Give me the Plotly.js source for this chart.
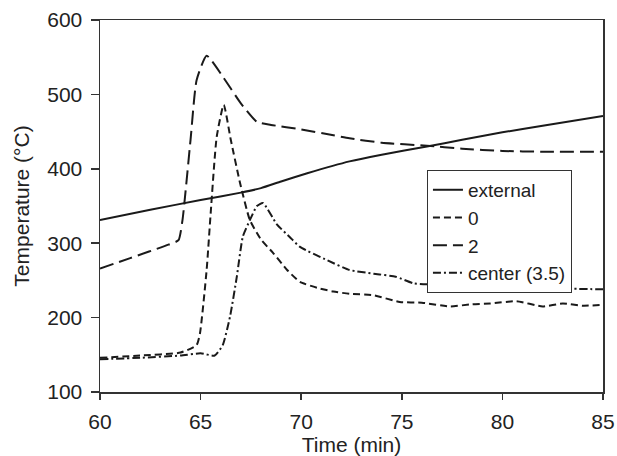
<!DOCTYPE html>
<html>
<head>
<meta charset="utf-8">
<script src="https://cdn.plot.ly/plotly-3.0.1.min.js"></script>
<style>html,body{margin:0;padding:0;background:#fff;}#chart{width:617px;height:456px;}</style>
</head>
<body>
<div id="chart"></div>
<script>
// Time (min) and temperature (°C) per series
const extTime = [60, 62.5, 65, 67, 68, 69, 70.3, 72.4, 74, 76.25, 78, 80, 82, 85];
const extTemp = [331, 345, 358, 368, 374, 383, 394, 410, 419, 430, 439, 449, 458, 471];

const s0Time = [60, 62, 64, 64.8, 64.97, 65.3, 65.5, 65.8, 66.15, 66.5, 66.96, 67.45, 68, 68.6, 69.3, 69.94, 70.8, 71.6, 72.4, 73.6, 74.9, 76, 77.4, 78.5, 79.4, 80.7, 82, 83, 84, 85];
const s0Temp = [146, 149, 153, 163, 179, 264, 340, 443, 486, 439, 381, 331, 305, 287, 264, 248, 240, 235, 232, 230, 221, 220, 215, 218, 219, 222, 215, 219, 216, 217];

const s2Time = [60, 61.5, 63.4, 63.9, 64.1, 64.5, 64.8, 65.3, 66.1, 67, 67.8, 68.5, 70, 71.4, 72.4, 74, 76.25, 78, 80, 82, 85];
const s2Temp = [266, 280, 298, 304, 331, 439, 519, 552, 524, 488, 463, 459, 453, 446, 441, 435, 431, 427, 424, 423, 423];

const cTime = [60, 62, 64, 65, 65.7, 66.1, 66.46, 66.8, 67.1, 67.45, 67.8, 68.1, 68.8, 69.44, 69.94, 71.3, 72.4, 73.6, 74.7, 75.6, 77, 78, 79.7, 81.4, 83, 85];
const cTemp = [144, 146, 149, 152, 149, 163, 201, 255, 309, 331, 350, 354, 325, 308, 295, 277, 264, 259, 255, 246, 244, 242, 244, 240, 239, 238];

const seriesNames = ["external", "0", "2", "center (3.5)"];
const xTicks = [60, 65, 70, 75, 80, 85];
const yTicks = [100, 200, 300, 400, 500, 600];

const lineColor = "#1a1a1a";
const font = "Liberation Sans, Arial, Helvetica, sans-serif";

const traces = [
  {x: extTime, y: extTemp, name: seriesNames[0], mode: "lines",
   line: {color: lineColor, width: 2, shape: "spline", smoothing: 0.5}},
  {x: s0Time, y: s0Temp, name: seriesNames[1], mode: "lines",
   line: {color: lineColor, width: 2, dash: "7px,4px", shape: "spline", smoothing: 0.5}},
  {x: s2Time, y: s2Temp, name: seriesNames[2], mode: "lines",
   line: {color: lineColor, width: 2, dash: "14px,6px", shape: "spline", smoothing: 0.5}},
  {x: cTime, y: cTemp, name: seriesNames[3], mode: "lines",
   line: {color: lineColor, width: 2, dash: "8px,3px,2px,3px", shape: "spline", smoothing: 0.5}}
];

const layout = {
  width: 617, height: 456,
  margin: {l: 100, r: 14, t: 20, b: 64},
  paper_bgcolor: "#fff", plot_bgcolor: "#fff",
  font: {family: font, size: 21, color: "#222"},
  showlegend: true,
  legend: {
    x: 0.65, y: 0.597, xanchor: "left", yanchor: "top",
    bgcolor: "#fff", bordercolor: "#333", borderwidth: 1,
    font: {family: font, size: 19, color: "#222"},
    itemwidth: 30, tracegroupgap: 0
  },
  xaxis: {
    range: [60, 85], tickvals: xTicks, ticktext: xTicks.map(String),
    showgrid: false, zeroline: false,
    showline: true, linecolor: "#333", linewidth: 1.5, mirror: true,
    ticks: "outside", ticklen: 6, tickwidth: 1.5, tickcolor: "#333",
    ticklabelstandoff: 4,
    tickfont: {family: font, size: 21, color: "#222"},
    title: {text: "Time (min)", font: {family: font, size: 21, color: "#222"}, standoff: 13}
  },
  yaxis: {
    range: [100, 600], tickvals: yTicks, ticktext: yTicks.map(String),
    showgrid: false, zeroline: false,
    showline: true, linecolor: "#333", linewidth: 1.5, mirror: true,
    ticks: "outside", ticklen: 8, tickwidth: 1.5, tickcolor: "#333",
    ticklabelstandoff: 4,
    tickfont: {family: font, size: 21, color: "#222"},
    title: {text: "Temperature (°C)", font: {family: font, size: 21, color: "#222"}, standoff: 12}
  }
};

Plotly.newPlot("chart", traces, layout, {displayModeBar: false, staticPlot: true});
</script>
</body>
</html>
